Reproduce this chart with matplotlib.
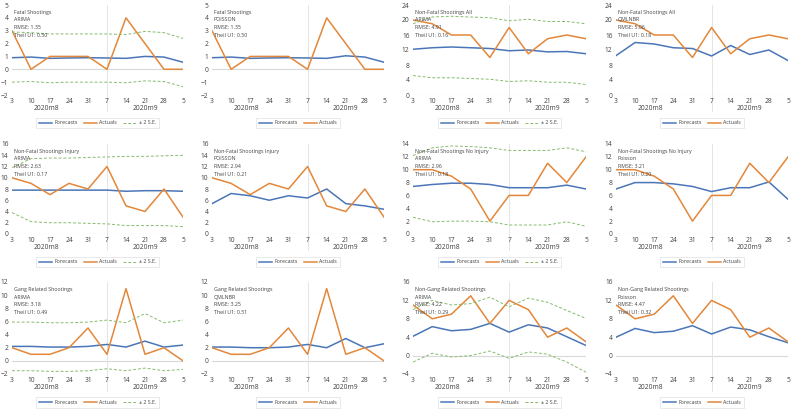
import matplotlib
matplotlib.use("Agg")
import matplotlib.pyplot as plt
import matplotlib.transforms as mtransforms

plt.rcParams['font.family'] = ['Open Sans', 'DejaVu Sans']

# weeks (Aug 3 .. Sep 5, 2020)
weeks = ['3', '10', '17', '24', '31', '7', '14', '21', '28', '5']
months = ['2020m8', '2020m9']

# Fatal shootings
fatal_act = [3, 0, 1, 1, 1, 0, 4, 2, 0, 0]
fatal_arima = [0.9, 0.95, 0.85, 0.88, 0.9, 0.88, 0.85, 1.0, 0.95, 0.55]
fatal_arima_up = [2.9, 2.85, 2.75, 2.75, 2.75, 2.75, 2.7, 2.95, 2.85, 2.4]
fatal_arima_lo = [-1.0, -0.95, -1.05, -1.0, -1.0, -1.0, -1.05, -0.9, -0.95, -1.35]
fatal_pois = [0.9, 0.95, 0.85, 0.88, 0.9, 0.88, 0.85, 1.05, 0.95, 0.55]

# Non-fatal shootings, all
nfall_act = [20, 19, 16, 16, 10, 18, 11, 15, 16, 15]
nfall_arima = [12.2, 12.6, 12.8, 12.6, 12.4, 11.8, 12.0, 11.5, 11.6, 11.0]
nfall_arima_up = [19.0, 20.8, 21.0, 20.8, 20.6, 19.8, 20.2, 19.6, 19.6, 19.0]
nfall_arima_lo = [5.2, 4.6, 4.6, 4.4, 4.2, 3.6, 3.8, 3.4, 3.4, 2.8]
nfall_qml = [10.5, 14.0, 13.6, 12.6, 12.4, 10.4, 13.2, 10.8, 12.0, 9.2]

# Non-fatal shootings, injury
nfinj_act = [10, 9, 7, 9, 8, 12, 5, 4, 8, 3]
nfinj_arima = [7.8, 7.8, 7.8, 7.8, 7.8, 7.8, 7.6, 7.7, 7.7, 7.6]
nfinj_arima_up = [11.8, 13.4, 13.5, 13.5, 13.6, 13.7, 13.8, 13.8, 13.9, 14.0]
nfinj_arima_lo = [3.8, 2.2, 2.0, 2.0, 1.9, 1.8, 1.5, 1.5, 1.5, 1.3]
nfinj_pois = [5.4, 7.2, 6.8, 6.0, 6.8, 6.4, 8.0, 5.4, 5.0, 4.4]

# Non-fatal shootings, no injury
nfno_act = [10, 10, 9, 7, 2, 6, 6, 11, 8, 12]
nfno_arima = [7.4, 7.7, 7.9, 7.9, 7.7, 7.2, 7.2, 7.2, 7.6, 7.0]
nfno_arima_up = [12.2, 13.4, 13.7, 13.6, 13.4, 13.0, 13.0, 13.0, 13.4, 12.8]
nfno_arima_lo = [2.6, 1.9, 2.0, 2.0, 1.9, 1.4, 1.4, 1.4, 1.9, 1.2]
nfno_pois = [7.0, 8.0, 8.0, 7.8, 7.4, 6.6, 7.2, 7.2, 8.1, 5.4]

# Gang related shootings
gang_act = [2, 1, 1, 2, 5, 1, 11, 1, 2, 0]
gang_arima = [2.2, 2.2, 2.1, 2.1, 2.2, 2.5, 2.1, 3.0, 2.1, 2.4]
gang_arima_up = [5.9, 5.9, 5.8, 5.8, 5.9, 6.2, 5.8, 7.2, 5.8, 6.2]
gang_arima_lo = [-1.5, -1.5, -1.6, -1.6, -1.5, -1.2, -1.5, -1.1, -1.5, -1.3]
gang_qml = [2.1, 2.1, 2.0, 2.0, 2.1, 2.5, 2.0, 3.4, 2.0, 2.6]

# Non-gang related shootings
ngang_act = [11, 8, 9, 13, 7, 12, 10, 4, 6, 3]
ngang_arima = [4.2, 6.3, 5.4, 5.7, 7.0, 5.1, 6.7, 6.0, 4.1, 2.2]
ngang_arima_up = [10.0, 12.0, 11.0, 11.3, 12.7, 10.6, 12.5, 11.6, 9.8, 8.1]
ngang_arima_lo = [-1.4, 0.5, -0.3, 0.0, 1.0, -0.6, 0.8, 0.3, -1.4, -3.6]
ngang_pois = [4.0, 5.9, 5.0, 5.3, 6.5, 4.7, 6.2, 5.6, 4.1, 2.8]

# (title, model, rmse, theil, forecast, actual, upper, lower, ylim, ystep)
panels = [
    ("Fatal Shootings", "ARIMA", "1.35", "0.50", fatal_arima, fatal_act, fatal_arima_up, fatal_arima_lo, (-2, 5), 1),
    ("Fatal Shootings", "POISSON", "1.35", "0.50", fatal_pois, fatal_act, None, None, (-2, 5), 1),
    ("Non-Fatal Shootings All", "ARIMA", "4.91", "0.16", nfall_arima, nfall_act, nfall_arima_up, nfall_arima_lo, (0, 24), 4),
    ("Non-Fatal Shootings All", "QMLNBR", "5.06", "0.18", nfall_qml, nfall_act, None, None, (0, 24), 4),
    ("Non-Fatal Shootings Injury", "ARIMA", "2.63", "0.17", nfinj_arima, nfinj_act, nfinj_arima_up, nfinj_arima_lo, (0, 16), 2),
    ("Non-Fatal Shootings Injury", "POISSON", "2.94", "0.21", nfinj_pois, nfinj_act, None, None, (0, 16), 2),
    ("Non-Fatal Shootings No Injury", "ARIMA", "2.96", "0.18", nfno_arima, nfno_act, nfno_arima_up, nfno_arima_lo, (0, 14), 2),
    ("Non-Fatal Shootings No Injury", "Poisson", "3.21", "0.20", nfno_pois, nfno_act, None, None, (0, 14), 2),
    ("Gang Related Shootings", "ARIMA", "3.18", "0.49", gang_arima, gang_act, gang_arima_up, gang_arima_lo, (-2, 12), 2),
    ("Gang Related Shootings", "QMLNBR", "3.25", "0.51", gang_qml, gang_act, None, None, (-2, 12), 2),
    ("Non-Gang Related Shootings", "ARIMA", "4.22", "0.29", ngang_arima, ngang_act, ngang_arima_up, ngang_arima_lo, (-4, 16), 4),
    ("Non-Gang Related Shootings", "Poisson", "4.47", "0.32", ngang_pois, ngang_act, None, None, (-4, 16), 4),
]

W, H = 793, 409
fig = plt.figure(figsize=(W / 100, H / 100), dpi=100)

col_x = [(12, 171), (212, 172), (413, 173), (616, 172)]
row_y = [(5, 95), (144, 234), (282, 374)]

blue = '#4A76B8'
orange = '#E3873A'
green = '#86BB6A'
grid = '#D9D9D9'

for i, (title, model, rmse, theil, fc, act, up, lo, ylim, ystep) in enumerate(panels):
    r, c = divmod(i, 4)
    x0, w = col_x[c]
    top, bot = row_y[r]
    ax = fig.add_axes([x0 / W, 1 - bot / H, w / W, (bot - top) / H])

    ax.plot(weeks, fc, color=blue, lw=1.1, label='Forecasts')
    ax.plot(weeks, act, color=orange, lw=1.1, label='Actuals')
    if up is not None:
        ax.plot(weeks, up, color=green, lw=0.7, ls=(0, (3, 2)), label='± 2 S.E.')
        ax.plot(weeks, lo, color=green, lw=0.7, ls=(0, (3, 2)))

    ax.set_xlim(0, len(weeks) - 1)
    ax.set_ylim(*ylim)
    ax.set_yticks(range(ylim[0], ylim[1] + 1, ystep))
    for s in ax.spines.values():
        s.set_visible(False)
    ax.axhline(0, color=grid, lw=0.8, zorder=0)
    # month separator
    ax.plot([5, 5], [1, -0.18], transform=ax.get_xaxis_transform(),
            color='#E4E4E4', lw=0.7, zorder=0, clip_on=False)
    ax.tick_params(length=0, labelsize=4.8, pad=2.5, colors='#404040')

    trans = mtransforms.blended_transform_factory(ax.transData, ax.transAxes)
    for m, pos in zip(months, [1.8, 7]):
        ax.text(pos, -0.145, m, transform=trans, ha='center', va='center',
                fontsize=4.8, color='#404040')

    lines = [title, model, "RMSE: " + rmse, "Theil U1: " + theil]
    for k, t in enumerate(lines):
        ax.text(0.01, 0.92 - k * 0.085, t, transform=ax.transAxes,
                fontsize=3.8, color='#404040', va='center')

    leg = ax.legend(loc='center', bbox_to_anchor=(0.5, -0.31), ncol=3,
                    fontsize=3.8, frameon=True, edgecolor='#D9D9D9', fancybox=False,
                    handlelength=2.4, columnspacing=1.2, borderpad=0.5,
                    handletextpad=0.5, labelcolor='#404040')
    leg.get_frame().set_linewidth(0.5)

fig.savefig('out.png', dpi=100)
